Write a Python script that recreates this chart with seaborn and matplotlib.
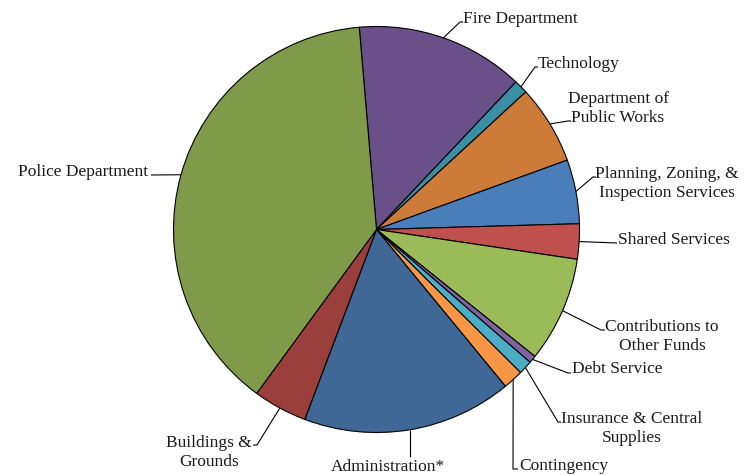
import numpy as np
import matplotlib
matplotlib.use("Agg")
import matplotlib.pyplot as plt
import seaborn as sns

# Budget share by department (percent of total), clockwise from the top
departments = [
    "Fire Department", "Technology", "Department of\nPublic Works",
    "Planning, Zoning, &\nInspection Services", "Shared Services",
    "Contributions to\nOther Funds", "Debt Service",
    "Insurance & Central\nSupplies", "Contingency", "Administration*",
    "Buildings &\nGrounds", "Police Department",
]
shares = [13.4, 1.1, 6.3, 5.1, 2.8, 8.4, 0.6, 1.1, 1.6, 16.7, 4.3, 38.6]
colors = [
    "#6A5089", "#3A8FA5", "#CD7B38", "#4A7EBB", "#C0504D", "#9BBB59",
    "#8064A2", "#4BACC6", "#F79646", "#3F6897", "#9B3F3C", "#7F9B4A",
]

sns.set_theme(style="white")
plt.rcParams["font.family"] = ["Liberation Serif", "DejaVu Serif"]

W, H = 756, 475
fig = plt.figure(figsize=(W / 100, H / 100), dpi=100)
ax = fig.add_axes([0, 0, 1, 1])

cx, cy, R = 376.5, H - 229.5, 203
wedges, _ = ax.pie(
    shares, colors=colors, startangle=94.87, counterclock=False,
    center=(cx, cy), radius=R,
    wedgeprops=dict(edgecolor="black", linewidth=0.8),
)
ax.set_xlim(0, W)
ax.set_ylim(0, H)
ax.set_aspect("equal")
ax.axis("off")

# label placement: (text x, last-line baseline y, alignment, leader path after the wedge edge)
layout = [
    (463, 23, "left", [(460, 22), (463, 22)]),
    (538, 68, "left", [(535, 67), (538, 67)]),
    (618, 122, "center", [(568, 121), (571, 121)]),
    (667, 197, "center", [(593, 177), (596, 177)]),
    (618, 244, "left", [(617, 243)]),
    (662, 350, "center", [(601, 330), (605, 330)]),
    (572, 373, "left", [(568, 373), (571, 373)]),
    (632, 442, "center", [(558, 422), (561, 422)]),
    (519, 470, "left", [(513, 469), (518, 469)]),
    (388, 471, "center", [(None, 457)]),
    (209, 466, "center", [(257, 445), (253, 445)]),
    (18, 176, "left", [(151, 175)]),
]

for w, label, (tx, ty, ha, path) in zip(wedges, departments, layout):
    mid = np.deg2rad((w.theta1 + w.theta2) / 2)
    sx, sy = cx + R * np.cos(mid), cy + R * np.sin(mid)
    xs, ys = [sx], [sy]
    for px, py in path:
        xs.append(sx if px is None else px)
        ys.append(H - py)
    ax.plot(xs, ys, color="black", linewidth=0.8, solid_capstyle="butt")
    ax.text(tx, H - ty, label, ha=ha, va="baseline", multialignment="center",
            fontsize=12.5, color="#1a1a1a", linespacing=1.28)

fig.savefig("out.png", dpi=100)
